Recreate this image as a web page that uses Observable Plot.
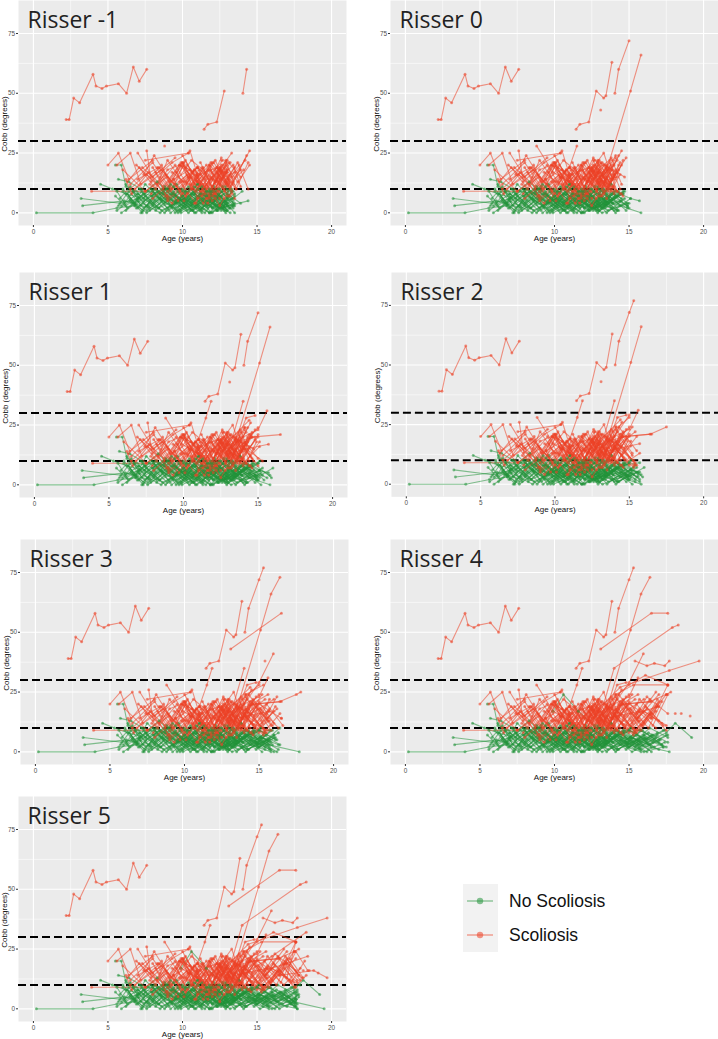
<!DOCTYPE html>
<html>
<head>
<meta charset="utf-8">
<script src="https://cdn.jsdelivr.net/npm/d3@7"></script>
<script src="https://cdn.jsdelivr.net/npm/@observablehq/plot@0.6"></script>
<style>
  html, body { margin: 0; background: #ffffff; }
  #page { position: relative; width: 718px; height: 1039px; overflow: hidden; background: #ffffff; }
  .panel { position: absolute; }
  .panel svg { overflow: visible; }
  #legend { position: absolute; left: 463px; top: 884px; font-family: "Liberation Sans", Arial, sans-serif; }
</style>
</head>
<body>
<div id="page"></div>
<script>
// Groups, Risser stages and axis ticks
const groups = ["No Scoliosis", "Scoliosis"];
const risserStages = [-1, 0, 1, 2, 3, 4, 5];
const panelTitles = ["Risser -1", "Risser 0", "Risser 1", "Risser 2", "Risser 3", "Risser 4", "Risser 5"];
const cobbThresholds = [10, 30];
const ageTicks = [0, 5, 10, 15, 20];
const ageMinorTicks = [2.5, 7.5, 12.5, 17.5];
const cobbTicks = [0, 25, 50, 75];
const cobbMinorTicks = [12.5, 37.5, 62.5];

// Follow-up visits per patient: [age (years), Cobb angle (degrees), Risser stage at visit]
const noScoliosis = [
  [[0.2,0,-1],[4.0,0,-1],[5.6,2,-1],[6.8,3,-1]],
  [[3.2,6,-1],[5.8,4,-1],[7.1,6,-1]],
  [[3.3,3,-1],[6.1,5,-1],[7.8,2,-1]],
  [[4.5,12,-1],[5.3,10,-1],[6.2,8,-1],[7.4,6,-1]],
  [[5.5,20,-1],[5.9,20,-1],[6.2,11,-1],[6.9,9,-1],[8.0,7,-1]],
  [[5.7,14,-1],[6.4,13,-1],[7.2,10,-1],[8.5,8,-1]],
  [[5.5,7,-1],[6.3,2,-1],[7.7,9,-1],[9.2,3,-1],[10.8,8,-1],[12.5,2,-1],[14.4,5,-1]],
  [[5.9,3,-1],[7.0,8,-1],[8.6,1,-1],[10.1,6,-1],[11.8,0,-1],[13.4,5,-1],[15.8,0,0]],
  [[6.0,9,-1],[6.8,3,-1],[8.1,10,-1],[9.5,2,-1],[11.2,8,-1],[12.8,3,-1],[14.0,9,-1],[15.1,6,0],[15.7,5,0]],
  [[6.2,1,-1],[7.5,7,-1],[8.8,0,-1],[10.4,9,-1],[12.0,2,-1],[13.3,6,-1]],
  [[6.4,7,-1],[7.3,1,-1],[8.4,9,-1],[9.8,4,-1],[11.0,10,-1],[12.2,3,-1]],
  [[6.6,4,-1],[7.9,10,-1],[9.0,2,-1],[10.6,8,-1],[12.3,1,-1],[13.5,7,-1],[14.9,3,0],[16.0,7,1]],
  [[6.9,2,-1],[8.3,9,-1],[9.7,0,-1],[11.4,6,-1],[12.9,1,-1]],
  [[7.1,10,-1],[8.0,3,-1],[9.1,11,-1],[10.2,2,-1],[11.6,9,-1]],
  [[7.4,5,-1],[8.6,10,-1],[9.9,1,-1],[11.2,8,-1],[12.7,2,-1],[14.2,7,0],[15.6,3,1],[17.7,0,3]],
  [[7.7,3,-1],[9.0,9,-1],[10.3,1,-1],[11.9,7,-1],[13.2,10,-1]],
  [[8.0,9,-1],[9.3,2,-1],[10.5,10,-1],[11.7,3,-1],[13.0,8,-1],[13.9,4,-1]],
  [[8.2,1,-1],[9.4,8,-1],[10.8,0,-1],[12.2,6,-1],[13.6,1,0],[15.0,4,0],[16.2,0,3]],
  [[8.5,6,-1],[9.6,12,-1],[10.9,2,-1],[12.1,9,-1],[13.3,3,-1],[14.6,8,0],[15.7,9,2],[17.0,5,4]],
  [[8.8,4,-1],[10.0,10,-1],[11.3,1,-1],[12.6,7,-1],[13.8,2,0],[15.1,6,1],[16.3,3,3],[17.5,7,4]],
  [[9.0,10,-1],[10.1,4,-1],[11.0,12,-1],[12.0,5,-1],[13.1,9,-1]],
  [[9.2,0,-1],[10.5,6,-1],[11.8,0,-1],[13.0,7,-1],[14.2,1,0],[15.6,5,2],[17.0,1,4],[17.6,4,5]],
  [[9.5,7,-1],[10.7,1,-1],[11.9,9,-1],[13.2,2,-1],[14.5,8,0],[15.7,3,3],[16.9,7,4],[17.6,2,5]],
  [[9.8,3,-1],[11.0,10,-1],[12.3,2,-1],[13.5,8,-1],[14.8,1,0],[16.0,6,3],[17.3,2,4],[17.7,6,5]],
  [[10.0,9,-1],[11.1,2,-1],[12.4,10,-1],[13.4,4,-1],[14.7,9,0],[15.9,3,1],[17.5,8,4],[18.1,12,4],[19.2,6,4]],
  [[10.3,5,-1],[11.5,0,-1],[12.6,9,-1],[13.4,3,-1]],
  [[10.5,1,-1],[11.7,7,-1],[12.9,0,-1],[14.0,6,0],[15.2,0,1],[16.6,4,4],[17.6,1,5]],
  [[10.8,8,-1],[12.0,2,-1],[13.0,10,-1],[13.9,4,0],[15.0,9,1],[16.2,5,3],[17.4,9,4]],
  [[11.0,4,-1],[12.1,11,-1],[13.2,2,-1],[14.4,8,0],[15.7,2,2],[16.8,6,4],[17.5,3,5]],
  [[11.3,2,-1],[12.4,8,-1],[13.5,0,-1],[14.7,6,0],[15.8,1,3],[17.1,5,4],[17.6,1,5]],
  [[11.6,7,-1],[12.6,1,-1],[13.3,9,-1],[14.4,3,0],[15.4,8,2],[16.5,2,4],[17.7,7,5]],
  [[12.0,9,-1],[12.8,3,-1],[13.6,10,0],[14.9,4,0],[15.8,9,3],[17.0,4,4],[17.7,8,5]],
  [[12.3,1,-1],[13.1,7,-1],[14.1,0,0],[15.2,5,1],[16.3,1,3],[17.4,4,4]],
  [[5.8,6,-1],[6.5,11,-1],[7.2,3,-1],[8.7,9,-1],[10.0,2,-1]],
  [[6.1,4,-1],[6.7,9,-1],[7.8,1,-1],[9.3,8,-1],[10.9,0,-1],[12.4,7,-1],[14.0,1,0],[15.1,6,0]],
  [[6.3,8,-1],[7.0,2,-1],[8.2,10,-1],[9.6,4,-1],[11.3,11,-1],[13.0,3,-1],[14.6,8,0],[15.8,4,1]],
  [[5.6,1,-1],[6.5,5,-1],[7.6,0,-1],[9.0,6,-1],[10.7,1,-1],[12.0,7,-1]],
  [[7.9,7,-1],[8.9,1,-1],[10.2,9,-1],[11.4,3,-1],[12.5,10,-1],[13.6,4,0],[15.0,9,1],[16.1,5,3],[17.3,9,4],[17.9,10,5]],
  [[8.4,2,-1],[9.7,9,-1],[10.6,1,-1],[11.5,8,-1],[12.8,2,-1],[14.1,7,0],[15.4,1,2],[16.7,5,4],[17.5,1,5]],
  [[9.1,5,-1],[10.4,11,-1],[11.6,3,-1],[12.7,9,-1],[13.9,2,0],[15.3,7,1],[16.4,3,3],[17.6,7,4]],
  [[6.0,10,-1],[6.8,4,-1],[7.5,12,-1],[8.6,5,-1]],
  [[7.2,0,-1],[8.5,6,-1],[9.9,0,-1],[11.6,5,-1],[13.2,0,-1],[14.8,4,0],[16.0,0,3],[17.3,2,4],[17.7,0,5]],
  [[9.4,9,-1],[10.2,3,-1],[11.0,12,-1],[12.1,5,-1],[13.3,10,-1],[14.5,6,0]],
  [[10.1,6,-1],[11.2,1,-1],[12.2,9,-1],[13.1,2,-1],[14.3,8,0],[15.5,3,2],[16.6,7,4],[17.7,2,5]],
  [[5.7,3,-1],[6.4,9,-1],[7.4,2,-1],[8.9,10,-1],[10.6,3,-1],[12.1,9,-1],[13.4,2,-1]],
  [[6.7,9,-1],[7.6,3,-1],[8.8,11,-1],[10.1,5,-1],[11.5,10,-1],[12.9,2,-1],[14.1,9,0],[15.3,4,1],[16.4,10,3],[17.6,6,4]],
  [[7.6,1,-1],[8.9,7,-1],[10.4,0,-1],[11.9,8,-1],[13.0,1,-1],[14.5,5,0],[15.7,1,2]],
  [[8.7,8,-1],[9.8,1,-1],[11.1,10,-1],[12.3,3,-1],[13.4,9,-1],[14.9,3,0]],
  [[10.6,3,-1],[11.8,9,-1],[12.8,1,-1],[13.7,7,0],[15.0,2,1],[16.1,6,3],[17.5,2,4],[17.8,5,5]],
  [[11.8,5,-1],[12.7,11,-1],[13.5,3,-1],[14.6,9,0],[15.6,4,2],[16.9,8,4],[17.6,4,5]],
  [[12.5,2,-1],[13.3,9,-1],[14.3,1,0],[15.5,7,2],[16.7,2,4],[17.6,5,5]],
  [[13.0,6,-1],[13.8,12,0],[14.8,4,1],[15.9,9,3],[17.2,3,4],[17.8,6,5]],
  [[6.5,6,-1],[7.3,0,-1],[8.1,8,-1],[9.1,1,-1],[10.2,9,-1],[11.7,2,-1],[13.4,6,-1]],
  [[9.6,1,-1],[10.9,6,-1],[12.0,0,-1],[13.1,7,-1],[14.2,1,0],[15.5,5,2],[16.5,0,4],[17.4,3,5],[19.5,0,5]],
  [[7.0,8,-1],[8.2,2,-1],[9.4,11,-1],[10.6,4,-1],[11.8,10,-1],[13.0,3,-1]],
  [[12.2,7,-1],[13.0,1,-1],[13.9,8,0],[15.0,2,0],[16.0,7,3],[17.2,3,4]],
  [[13.4,3,-1],[14.3,9,0],[15.4,2,1],[16.5,7,4],[17.6,3,5]],
  [[8.1,5,-1],[9.2,12,-1],[10.5,3,-1],[11.6,9,-1],[12.7,2,-1],[13.8,8,0],[15.1,3,1],[16.3,8,3],[17.6,4,4]],
  [[10.9,9,-1],[11.9,3,-1],[12.9,11,-1],[13.8,5,0],[15.1,10,1],[16.2,4,4],[17.5,9,5]],
  [[5.9,0,-1],[7.0,5,-1],[8.5,0,-1],[10.0,7,-1],[11.9,0,-1],[13.5,4,-1]],
  [[6.2,12,-1],[7.0,6,-1],[8.3,13,-1],[9.6,5,-1],[10.8,11,-1],[12.1,4,-1]],
  [[7.3,9,-1],[8.0,4,-1],[9.2,8,-1],[10.0,3,-1],[11.1,7,-1],[12.4,1,-1],[13.6,6,0],[14.9,2,0]],
  [[8.9,6,-1],[9.5,0,-1],[10.8,5,-1],[11.9,10,-1],[13.0,4,-1],[14.0,8,0]],
  [[5.6,9,-1],[6.2,3,-1],[7.4,8,-1],[8.4,2,-1],[9.8,6,-1],[11.3,0,-1]],
  [[9.9,17,4],[10.6,24,4],[11.6,17,4],[12.8,10,4]]
];

const scoliosis = [
  [[2.2,39,-1],[2.4,39,-1],[2.7,48,-1],[3.1,46,-1],[4.0,58,-1],[4.2,53,-1],[4.6,52,-1],[4.9,53,-1],[5.7,54,-1],[6.25,50,-1],[6.7,61,-1],[7.1,55,-1],[7.6,60,-1]],
  [[11.45,35,-1],[11.7,37,-1],[12.3,38,-1],[12.8,51,-1],[13.3,48,0],[13.45,49,0],[13.85,63,0]],
  [[14.05,50,-1],[14.3,60,-1],[15.0,72,0],[15.3,77,2]],
  [[12.6,17,-1],[13.7,22,0],[15.1,51,0],[15.8,66,0],[16.4,73,3]],
  [[13.1,43,0],[16.5,58,3],[17.6,58,4]],
  [[11.0,19,-1],[11.5,28,0],[11.85,35,1]],
  [[13.3,20,0],[14.0,35,1],[17.9,52,4],[18.3,53,4]],
  [[12.0,14,-1],[13.6,18,0],[14.2,28,1],[14.8,29,1]],
  [[12.5,12,-1],[14.0,20,0],[15.0,23,1],[15.6,31,1]],
  [[13.1,13,-1],[14.6,20,1],[16.5,21,1]],
  [[12.9,13,-1],[14.2,15,0],[15.7,17,1]],
  [[13.5,18,0],[14.8,20,1],[16.4,21,2],[17.5,24,2],[17.8,25,3]],
  [[13.8,18,0],[15.0,29,2],[15.96,41,3]],
  [[15.4,38,3],[16.2,36,4],[16.7,37,4],[17.4,36,4],[17.7,38,4]],
  [[12.8,17,-1],[14.4,27,1],[17.7,34,4],[19.7,38,4]],
  [[14.0,14,0],[16.0,22,3],[18.3,32,5]],
  [[16.5,14,3],[18.8,16,5],[19.7,13,5]],
  [[18.1,16,4]],
  [[18.5,16,4]],
  [[19.1,15,4]],
  [[15.5,16,3],[17.0,19,4],[18.4,22,5]],
  [[13.9,22,0],[15.0,28,2],[16.1,32,4],[17.6,28,4]],
  [[14.1,24,1],[15.3,28,3],[17.6,28,4]],
  [[5.0,20,-1],[5.7,25,-1],[6.4,14,-1],[8.0,22,-1]],
  [[5.6,20,-1],[6.5,25,-1],[7.2,12,-1],[8.5,19,-1]],
  [[3.9,9,-1],[7.5,9,-1],[9.0,15,-1]],
  [[7.6,26,-1],[7.9,13,-1],[9.3,21,-1],[10.4,25,-1]],
  [[8.8,28,-1],[9.9,17,0],[11.2,12,0]],
  [[7.5,22,-1],[10.4,25,-1],[10.5,26,-1],[11.2,12,-1],[12.0,21,-1]],
  [[6.5,12,-1],[8.0,21,-1],[9.2,10,-1],[10.6,22,-1],[12.3,13,-1]],
  [[7.0,14,-1],[8.4,19,-1],[9.6,11,-1],[11.0,19,-1],[12.8,10,-1],[14.1,24,0]],
  [[8.0,19,-1],[9.0,9,-1],[10.1,20,-1],[11.4,12,-1],[12.7,22,-1]],
  [[6.8,10,-1],[8.6,18,-1],[10.0,8,-1],[11.8,20,-1],[13.2,11,-1],[14.5,26,-1]],
  [[9.5,12,-1],[10.8,18,-1],[12.0,11,-1],[13.1,21,-1],[13.9,15,-1]],
  [[10.2,19,-1],[11.3,7,-1],[12.5,18,-1],[13.6,10,-1],[14.4,21,-1]],
  [[11.0,10,-1],[11.9,21,-1],[12.9,12,-1],[13.8,20,-1],[15.0,11,1],[16.2,18,3]],
  [[8.2,17,-1],[9.0,6,-1],[10.5,15,-1],[12.2,8,-1],[13.5,19,-1]],
  [[7.3,19,-1],[8.7,11,-1],[9.8,20,-1],[11.6,10,-1],[12.6,23,-1],[13.8,14,0],[15.4,22,2]],
  [[9.1,11,-1],[9.9,20,-1],[10.9,9,-1],[12.1,21,-1],[13.0,12,-1],[14.2,22,-1]],
  [[10.5,12,-1],[11.7,4,-1],[12.4,16,-1],[13.3,9,-1],[14.5,20,-1],[15.6,24,3]],
  [[6.3,13,-1],[7.1,19,-1],[8.2,10,-1],[9.5,20,-1],[10.3,12,-1]],
  [[8.5,15,-1],[9.7,5,-1],[10.7,17,-1],[11.5,8,-1],[12.4,18,-1],[13.4,11,0]],
  [[11.2,21,-1],[12.0,11,-1],[12.9,20,-1],[13.7,13,-1]],
  [[12.0,11,-1],[12.6,19,-1],[13.3,25,-1],[13.9,14,0],[14.8,23,0]],
  [[9.8,9,-1],[10.8,18,-1],[11.8,7,-1],[12.8,16,-1],[13.7,10,0],[15.0,20,1],[16.5,14,3],[17.6,28,4]],
  [[7.8,12,-1],[9.3,4,-1],[10.6,15,-1],[12.2,6,-1],[13.1,14,-1],[14.5,8,0],[15.7,13,2]],
  [[10.0,24,-1],[11.0,13,-1],[12.2,22,-1],[13.0,11,-1],[14.1,18,-1]],
  [[6.0,18,-1],[7.5,9,-1],[8.9,16,-1],[10.2,7,-1],[11.5,15,-1]],
  [[9.0,5,-1],[10.3,13,-1],[11.4,4,-1],[12.3,14,-1],[13.1,7,-1],[14.0,16,0],[15.3,10,1],[17.0,21,4],[17.8,14,5]],
  [[10.8,4,-1],[11.6,12,-1],[12.5,3,-1],[13.4,13,-1],[14.6,7,0],[16.0,17,3],[17.5,11,4]],
  [[8.0,6,-1],[9.4,14,-1],[10.1,5,-1],[11.0,16,-1],[12.5,6,-1],[13.5,15,0],[15.6,9,3],[17.6,21,5]],
  [[11.5,14,-1],[12.3,19,-1],[13.1,12,-1],[13.9,18,-1],[14.7,15,0]],
  [[12.5,19,-1],[13.2,10,-1],[14.3,24,-1],[15.5,14,2],[16.8,25,4]],
  [[6.9,20,-1],[8.3,12,-1],[9.0,22,-1],[10.0,13,-1]],
  [[10.4,15,-1],[11.0,6,-1],[11.9,18,-1],[12.8,9,-1],[13.5,19,0],[14.6,11,1],[15.7,18,3],[17.2,12,4]],
  [[9.6,17,-1],[10.3,8,-1],[11.1,18,-1],[12.0,7,-1],[13.0,17,-1],[14.0,9,0],[15.1,16,1]],
  [[12.2,13,-1],[12.9,22,-1],[13.6,10,-1],[14.3,20,0],[15.2,12,2],[16.2,23,3],[17.6,16,4]],
  [[7.4,16,-1],[8.1,24,-1],[9.2,13,-1],[10.1,21,-1]],
  [[11.8,20,-1],[12.4,9,-1],[13.0,22,-1],[13.7,12,0],[14.5,21,1],[15.6,13,3]],
  [[10.9,16,-1],[11.7,6,-1],[12.5,19,-1],[13.3,8,-1],[14.2,17,0],[15.4,9,2],[16.8,19,4],[17.7,12,5]],
  [[8.7,10,-1],[9.9,21,-1],[11.2,9,-1],[12.7,20,-1],[14.0,11,0],[15.0,21,1],[16.0,12,3],[17.5,24,4]],
  [[6.5,10,-1],[7.7,17,-1],[8.9,7,-1],[10.3,16,-1],[11.6,6,-1],[13.0,17,-1],[14.2,9,0]],
  [[13.0,14,-1],[13.7,21,-1],[14.4,10,-1]],
  [[12.7,11,-1],[13.5,20,0],[14.2,9,0],[14.9,18,1],[15.8,11,3],[16.9,20,4],[18.0,13,5]],
  [[9.3,17,-1],[10.1,13,-1],[11.0,19,-1],[11.8,14,-1],[12.6,18,-1],[13.4,12,-1]],
  [[11.4,9,-1],[12.3,17,-1],[13.2,7,-1],[14.0,15,0],[15.3,8,2],[16.4,16,3],[17.5,9,4],[18.3,14,5]],
  [[12.9,17,-1],[13.4,20,-1],[13.9,11,-1],[14.6,22,0],[15.6,14,3],[17.0,24,4]],
  [[10.0,21,-1],[10.6,10,-1],[11.4,19,-1],[12.1,8,-1],[12.9,21,-1]],
  [[13.1,15,-1],[13.8,23,0],[14.5,12,0],[15.5,20,2],[16.6,11,3],[17.6,24,4],[18.4,16,5]],
  [[9.4,14,-1],[10.5,18,-1],[11.5,11,-1],[12.6,20,-1],[13.6,9,0],[15.2,24,2]],
  [[11.9,10,-1],[12.8,19,-1],[13.5,6,-1],[14.4,16,0],[15.5,8,2],[16.8,17,4],[17.7,11,5]],
  [[8.6,20,-1],[9.3,10,-1],[10.2,22,-1],[11.1,11,-1]],
  [[12.4,15,-1],[13.0,7,-1],[13.7,19,0],[14.7,10,1],[15.7,22,3],[17.0,13,4],[17.6,28,5]],
  [[10.6,10,-1],[11.3,19,-1],[12.2,8,-1],[13.0,18,-1],[13.8,9,0],[14.8,19,1],[15.9,11,3],[16.9,22,4],[17.8,14,5]],
  [[6.2,14,-1],[6.6,8,-1],[7.6,16,-1],[9.0,7,-1]],
  [[7.0,25,-1],[8.0,15,-1],[9.5,23,-1]],
  [[12.6,22,-1],[13.3,12,0],[14.1,23,0],[15.2,13,2],[16.4,22,4],[17.4,12,5]],
  [[11.0,13,-1],[12.0,5,-1],[13.2,16,-1],[14.4,8,0],[15.6,17,3],[16.8,10,4],[17.9,17,5]],
  [[13.4,9,0],[14.3,18,0],[15.4,8,2],[16.5,16,4],[17.6,9,5]],
  [[12.1,9,-1],[13.0,18,-1],[14.0,8,0],[15.1,18,1],[16.3,10,3],[17.2,21,4],[18.1,13,5]],
  [[14.0,16,0],[15.0,8,1],[16.1,19,3],[17.3,11,4],[18.2,20,5]],
  [[13.6,11,0],[14.6,20,1],[15.8,9,3],[16.9,19,4],[17.9,12,5]],
  [[9.8,13,-1],[10.9,4,-1],[11.9,15,-1],[12.8,6,-1],[13.9,16,0],[15.3,7,2]],
  [[8.3,19,-1],[9.1,13,-1],[10.0,21,-1],[10.8,12,-1],[11.7,18,-1],[12.5,14,-1],[13.5,17,-1]],
  [[10.3,20,-1],[11.0,15,-1],[11.6,20,-1],[12.4,13,-1],[13.2,21,-1],[14.0,17,0],[15.0,24,1]],
  [[7.9,8,-1],[9.0,18,-1],[9.8,20,-1],[11.2,16,-1],[12.3,19,-1],[13.3,15,-1]]
];

// Drawing styles
const palette = {"No Scoliosis": "#23933a", "Scoliosis": "#ec4226"};
const markOpacity = 0.55;

// Grey panel rectangles on the page: [left, top]
const panelBoxes = [[18, 0], [390, 0], [19, 272], [391, 272], [20, 539], [390, 539], [18, 796]];
const panelWidth = 328, panelHeight = 225;
const marginLeft = 18, marginBottom = 17;

// Visits seen up to a given Risser stage, one row per visit
function visitsUpTo(stage) {
  const rows = [];
  [[groups[0], noScoliosis], [groups[1], scoliosis]].forEach(([group, patients]) => {
    patients.forEach((visits, i) => {
      visits.forEach(([age, cobb, s]) => {
        if (s <= stage) rows.push({id: group + "-" + i, group, age, cobb});
      });
    });
  });
  return rows;
}

const page = document.getElementById("page");

risserStages.forEach((stage, k) => {
  const rows = visitsUpTo(stage);
  const green = rows.filter(d => d.group === groups[0]);
  const red = rows.filter(d => d.group === groups[1]);
  const [left, top] = panelBoxes[k];

  const chart = Plot.plot({
    width: marginLeft + panelWidth,
    height: panelHeight + marginBottom,
    marginLeft, marginRight: 0, marginTop: 0, marginBottom,
    x: {domain: [-1, 21]},
    y: {domain: [-5.3, 88.8]},
    style: {background: "none", fontFamily: "'Liberation Sans', Arial, sans-serif", overflow: "visible"},
    marks: [
      Plot.frame({fill: "#ebebeb", stroke: "none"}),
      Plot.gridX(ageMinorTicks, {stroke: "#ffffff", strokeOpacity: 1, strokeWidth: 0.55}),
      Plot.gridY(cobbMinorTicks, {stroke: "#ffffff", strokeOpacity: 1, strokeWidth: 0.55}),
      Plot.gridX(ageTicks, {stroke: "#ffffff", strokeOpacity: 1, strokeWidth: 1.1}),
      Plot.gridY(cobbTicks, {stroke: "#ffffff", strokeOpacity: 1, strokeWidth: 1.1}),
      Plot.axisX(ageTicks, {tickSize: 2, tickPadding: 1.5, fontSize: 6.4, fill: "#4d4d4d", stroke: "#333333", label: null}),
      Plot.axisY(cobbTicks, {tickSize: 2, tickPadding: 1.5, fontSize: 6.4, fill: "#4d4d4d", stroke: "#333333", label: null}),
      Plot.ruleY(cobbThresholds, {stroke: "#000000", strokeWidth: 2, strokeDasharray: "8,4"}),
      Plot.line(green, {x: "age", y: "cobb", z: "id", stroke: palette[groups[0]], strokeWidth: 1.1, strokeOpacity: markOpacity}),
      Plot.line(red, {x: "age", y: "cobb", z: "id", stroke: palette[groups[1]], strokeWidth: 1.1, strokeOpacity: markOpacity}),
      Plot.dot(green, {x: "age", y: "cobb", r: 1.5, fill: palette[groups[0]], fillOpacity: markOpacity, stroke: "none"}),
      Plot.dot(red, {x: "age", y: "cobb", r: 1.5, fill: palette[groups[1]], fillOpacity: markOpacity, stroke: "none"}),
      Plot.text([panelTitles[k]], {frameAnchor: "top-left", textAnchor: "start", lineAnchor: "middle", dx: 9, dy: 20.5,
        fontSize: 23, fontFamily: "'Open Sans', sans-serif", fill: "#222222"}),
      Plot.text(["Age (years)"], {frameAnchor: "bottom", textAnchor: "middle", lineAnchor: "middle", dy: 12.5, fontSize: 8, fill: "#111111"}),
      Plot.text(["Cobb (degrees)"], {frameAnchor: "left", textAnchor: "middle", lineAnchor: "middle", dx: -14, dy: 11, rotate: -90, fontSize: 8, fill: "#111111"})
    ]
  });

  const holder = document.createElement("div");
  holder.className = "panel";
  holder.style.left = (left - marginLeft) + "px";
  holder.style.top = top + "px";
  holder.appendChild(chart);
  page.appendChild(holder);
});

// Legend
const legend = document.createElement("div");
legend.id = "legend";
const keyRows = groups.map((g, i) => `
  <g transform="translate(0, ${17 + i * 34})">
    <line x1="4" x2="30" y1="0" y2="0" stroke="${palette[g]}" stroke-opacity="${markOpacity}" stroke-width="1.3"></line>
    <circle cx="17" cy="0" r="3.2" fill="${palette[g]}" fill-opacity="${markOpacity}"></circle>
    <text x="46" y="0" dy="0.35em" font-size="17.5" fill="#111111">${g}</text>
  </g>`).join("");
legend.innerHTML = `<svg width="160" height="70" style="overflow:visible">
  <rect x="0" y="0" width="35" height="68" fill="#f2f2f2"></rect>${keyRows}</svg>`;
page.appendChild(legend);
</script>
</body>
</html>
